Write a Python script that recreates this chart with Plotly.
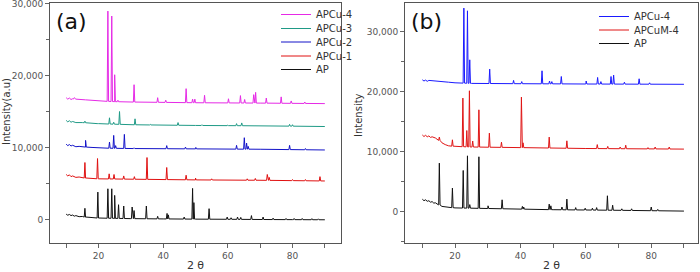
import numpy as np
import plotly.graph_objects as go

# ---------------- Panel (a) data ----------------
# baseline knots (2θ, intensity) and peaks (2θ, peak-top intensity)
ap_a_base_x = [10, 10.5, 11, 11.5, 12, 12.5, 13, 14, 15, 16, 18, 20, 25, 30, 40, 50, 60, 70, 80, 90]
ap_a_base_y = [800, 650, 760, 600, 680, 520, 600, 450, 480, 380, 330, 260, 220, 180, 140, 110, 90, 60, 40, 20]
ap_a_pk_x = [15.8, 19.8, 22.9, 24.1, 25.0, 26.2, 27.8, 30.4, 31.0, 34.8, 38.3, 41.2, 41.6, 46.5, 49.1, 49.5,
             54.2, 59.8, 61.0, 63.0, 64.0, 67.3, 70.9, 74.0, 78.0, 80.5, 83.0, 86.0, 88.0]
ap_a_pk_y = [1610, 3860, 4320, 4320, 3400, 2110, 1930, 1790, 1300, 1930, 500, 900, 700, 400, 4370, 2400,
             1560, 400, 300, 400, 350, 600, 400, 250, 200, 200, 200, 180, 150]

cu1_base_x = [10, 10.5, 11, 11.5, 12, 13, 14, 16, 20, 30, 50, 70, 90]
cu1_base_y = [6300, 6100, 6250, 6000, 6100, 5900, 5950, 5800, 5700, 5650, 5550, 5500, 5400]
cu1_pk_x = [15.8, 19.7, 23.3, 24.8, 27.8, 31.1, 35.0, 41.1, 47.1, 50.0, 55.0, 66.0, 68.5, 72.2, 72.8, 80.0, 84.0, 88.5]
cu1_pk_y = [7960, 8510, 6390, 6300, 6100, 6000, 8650, 7270, 6200, 5800, 5700, 5700, 5750, 6300, 5900, 5600, 5600, 6000]

cu2_base_x = [10, 10.5, 11, 11.5, 12, 13, 14, 16, 18, 22, 30, 50, 70, 90]
cu2_base_y = [10500, 10300, 10450, 10250, 10350, 10150, 10200, 10100, 10050, 9950, 9900, 9850, 9800, 9700]
cu2_pk_x = [16.0, 23.4, 24.7, 25.3, 28.0, 31.0, 41.1, 46.9, 50.1, 62.7, 65.1, 65.8, 66.3, 79.1, 84.0]
cu2_pk_y = [11030, 10800, 11720, 10300, 11860, 10000, 10300, 10100, 10050, 10340, 11400, 10660, 10200, 10340, 9900]

cu3_base_x = [10, 10.5, 11, 11.5, 12, 13, 15, 20, 30, 50, 70, 90]
cu3_base_y = [13800, 13600, 13750, 13550, 13650, 13500, 13500, 13350, 13200, 13100, 13050, 12950]
cu3_pk_x = [15.8, 19.8, 23.4, 24.7, 26.5, 31.3, 36.0, 44.6, 52.0, 60.0, 62.7, 64.3, 79.1, 80.0]
cu3_pk_y = [13700, 13400, 14160, 13550, 15030, 14020, 13250, 13500, 13200, 13150, 13350, 13450, 13250, 13200]

cu4_base_x = [10, 10.5, 11, 11.5, 12, 13, 16, 20, 25, 30, 50, 70, 90]
cu4_base_y = [16950, 16750, 16900, 16700, 16800, 16750, 16650, 16500, 16400, 16350, 16250, 16200, 16130]
cu4_pk_x = [12.5, 22.9, 24.1, 25.0, 26.0, 31.0, 38.3, 40.8, 47.1, 49.1, 49.8, 52.8, 60.2, 63.9, 65.2,
            68.0, 68.6, 71.9, 76.5, 79.6, 83.8]
cu4_pk_y = [16950, 28960, 28270, 20130, 16600, 18750, 16950, 16600, 18200, 16750, 16750, 17280, 16800, 17240, 16700,
            17370, 17690, 16900, 17060, 16500, 16350]

# ---------------- Panel (b) data ----------------
b_cu4_base_x = [10, 10.5, 11, 11.5, 12, 15, 18, 20, 25, 40, 60, 90]
b_cu4_base_y = [22000, 21800, 21950, 21750, 21900, 21800, 21600, 21500, 21400, 21350, 21300, 21250]
b_cu4_pk_x = [22.7, 23.8, 24.5, 30.6, 37.9, 40.4, 46.6, 48.9, 49.6, 52.5, 60.1, 63.6, 64.6, 67.7, 68.5, 71.8, 76.3, 79.5]
b_cu4_pk_y = [33950, 33500, 25330, 23780, 21900, 21700, 23500, 21800, 21700, 22550, 21800, 22390, 21700, 22550,
              22780, 21600, 22170, 21500]

b_cum4_base_x = [10, 10.5, 11, 11.5, 12, 12.5, 13, 14, 15, 16, 17, 18, 20, 25, 40, 60, 90]
b_cum4_base_y = [12800, 12550, 12750, 12500, 12650, 12400, 12500, 12300, 12000, 11500, 11200, 11000, 10900, 10800,
                 10700, 10550, 10450]
b_cum4_pk_x = [15.2, 19.2, 22.4, 23.6, 24.4, 25.4, 27.3, 30.5, 34.2, 40.3, 40.8, 48.8, 54.2, 63.5, 66.7, 70.5,
               72.2, 79.0, 81.2, 85.5]
b_cum4_pk_y = [12450, 12000, 18950, 13550, 20170, 11800, 17000, 13110, 11600, 19120, 11500, 12450, 11830, 11200,
               10900, 10800, 11100, 10700, 10800, 10800]

b_ap_base_x = [10, 10.5, 11, 11.5, 12, 12.5, 13, 13.5, 14, 15, 16, 18, 20, 30, 50, 70, 90]
b_ap_base_y = [2100, 1850, 2000, 1750, 1850, 1600, 1700, 1450, 1500, 1200, 900, 750, 650, 550, 350, 250, 120]
b_ap_pk_x = [15.2, 19.2, 22.5, 23.8, 24.5, 27.3, 30.1, 34.4, 40.6, 41.0, 48.8, 49.3, 52.7, 54.2, 56.9, 59.8,
             62.0, 63.3, 66.6, 68.2, 71.0, 74.0, 80.0, 82.0]
b_ap_pk_y = [8110, 3950, 6890, 9330, 1200, 9170, 1000, 2000, 900, 800, 1280, 1000, 800, 2120, 700, 600,
             600, 700, 2670, 1100, 500, 500, 800, 400]


def spectrum(bx, by, px, py, half=0.22):
    """Line vertices: baseline knots plus a narrow triangular spike per peak."""
    pts = list(zip(bx, by))
    for p, h in zip(px, py):
        foot = float(np.interp(p, bx, by))
        pts += [(p - half, foot), (p, h), (p + half, foot)]
    pts.sort(key=lambda t: t[0])
    return [t[0] for t in pts], [t[1] for t in pts]


W, H = 700, 272
ML, MR, MT, MB = 50, 2, 3, 29
PW = W - ML - MR
PH = H - MT - MB


def px2paper(px):
    return (px - ML) / PW


def py2paper(py):
    return 1 - (py - MT) / PH


fig = go.Figure()

panel_a = [
    ("APCu-4", "#e62ae6", cu4_base_x, cu4_base_y, cu4_pk_x, cu4_pk_y),
    ("APCu-3", "#1f9a86", cu3_base_x, cu3_base_y, cu3_pk_x, cu3_pk_y),
    ("APCu-2", "#1212c8", cu2_base_x, cu2_base_y, cu2_pk_x, cu2_pk_y),
    ("APCu-1", "#e01010", cu1_base_x, cu1_base_y, cu1_pk_x, cu1_pk_y),
    ("AP", "#111111", ap_a_base_x, ap_a_base_y, ap_a_pk_x, ap_a_pk_y),
]
panel_b = [
    ("APCu-4", "#1a1aff", b_cu4_base_x, b_cu4_base_y, b_cu4_pk_x, b_cu4_pk_y),
    ("APCuM-4", "#e01515", b_cum4_base_x, b_cum4_base_y, b_cum4_pk_x, b_cum4_pk_y),
    ("AP", "#111111", b_ap_base_x, b_ap_base_y, b_ap_pk_x, b_ap_pk_y),
]

# one single-entry legend per trace so rows can sit as tightly as in the reference
legend_font = dict(family="DejaVu Sans", size=10, color="#333333")
legend_rows_a = [14, 28, 41.5, 55.5, 69]
legend_rows_b = [16, 29.5, 43]
legend_layout = {}
k = 1
for i, (name, col, bx, by, px, py) in enumerate(panel_a):
    x, y = spectrum(bx, by, px, py)
    lname = "legend" if k == 1 else f"legend{k}"
    fig.add_trace(go.Scatter(x=x, y=y, mode="lines", name=name, line=dict(color=col, width=1),
                             legendgroup=f"a{i}", xaxis="x", yaxis="y", legend=lname))
    legend_layout[lname] = dict(x=px2paper(276), y=py2paper(legend_rows_a[i] - 14), xanchor="left",
                                yanchor="top", font=legend_font, bgcolor="rgba(255,255,255,0)",
                                borderwidth=0)
    k += 1
for i, (name, col, bx, by, px, py) in enumerate(panel_b):
    x, y = spectrum(bx, by, px, py)
    lname = f"legend{k}"
    fig.add_trace(go.Scatter(x=x, y=y, mode="lines", name=name, line=dict(color=col, width=1),
                             legendgroup=f"b{i}", xaxis="x2", yaxis="y2", legend=lname))
    legend_layout[lname] = dict(x=px2paper(594), y=py2paper(legend_rows_b[i] - 14), xanchor="left",
                                yanchor="top", font=legend_font, bgcolor="rgba(255,255,255,0)",
                                borderwidth=0)
    k += 1

tickfont = dict(family="DejaVu Sans", size=9, color="#555555")
titlefont = dict(family="DejaVu Sans", size=11, color="#333333")
common_axis = dict(showline=True, linecolor="#555555", linewidth=1, mirror=True, showgrid=False,
                   zeroline=False, ticks="outside", ticklen=4, tickcolor="#666666", tickfont=tickfont,
                   automargin=False, ticklabeloverflow="allow")
xcommon = dict(common_axis, dtick=20, tick0=0,
               minor=dict(dtick=10, ticks="outside", ticklen=4, tickcolor="#666666"),
               title=dict(text="2 θ", font=titlefont, standoff=3))
ycommon = dict(common_axis, dtick=10000, tickformat=",d",
               minor=dict(dtick=5000, ticks="outside", ticklen=3, tickcolor="#666666"))

fig.update_layout(
    width=W, height=H,
    margin=dict(l=ML, r=MR, t=MT, b=MB, autoexpand=False),
    paper_bgcolor="white", plot_bgcolor="white",
    xaxis=dict(xcommon, domain=[0, px2paper(341)], range=[5, 95], anchor="y"),
    yaxis=dict(ycommon, domain=[0, 1], range=[-3200, 30080], anchor="x"),
    xaxis2=dict(xcommon, domain=[px2paper(405), 1], range=[4.7, 94.3], anchor="y2"),
    yaxis2=dict(ycommon, domain=[0, 1], range=[-5200, 34800], anchor="x2"),
    showlegend=True,
    annotations=[
        dict(text="(a)", x=px2paper(54), y=py2paper(22), xref="paper", yref="paper",
             xanchor="left", yanchor="middle", showarrow=False,
             font=dict(family="DejaVu Sans", size=22, color="#111111")),
        dict(text="(b)", x=px2paper(409), y=py2paper(22), xref="paper", yref="paper",
             xanchor="left", yanchor="middle", showarrow=False,
             font=dict(family="DejaVu Sans", size=22, color="#111111")),
        dict(text="Intensity(a.u)", x=px2paper(7), y=py2paper(112), xref="paper", yref="paper",
             xanchor="center", yanchor="middle", textangle=-90, showarrow=False,
             font=dict(family="DejaVu Sans", size=10, color="#333333")),
        dict(text="Intensity", x=px2paper(358), y=py2paper(115), xref="paper", yref="paper",
             xanchor="center", yanchor="middle", textangle=-90, showarrow=False,
             font=dict(family="DejaVu Sans", size=10, color="#333333")),
    ],
    **legend_layout,
)

fig.write_html("out.html", config={"displayModeBar": False},
               post_script="document.body.style.margin='0';document.body.style.padding='0';")
